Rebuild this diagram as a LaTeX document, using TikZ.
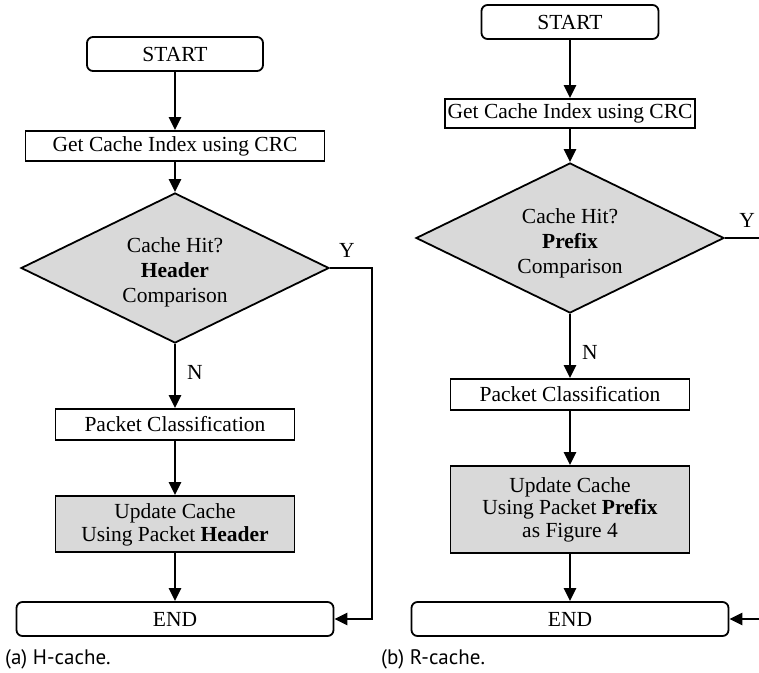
\documentclass[tikz,border=0pt]{standalone}
\usepackage{fontspec}
\setmainfont{Liberation Serif}
\newfontfamily\capfont{PT Sans}
\usetikzlibrary{shapes.geometric,arrows.meta}

\tikzset{
  every node/.style={font=\fontsize{21.5}{22.5}\selectfont},
  procbox/.style={draw, line width=1.8pt, fill=white, inner sep=0pt, align=center},
  termbox/.style={procbox, rounded corners=6pt},
  shadebox/.style={procbox, fill=gray!30},
  decision/.style={diamond, draw, line width=1.8pt, fill=gray!30, inner sep=0pt, aspect=2},
  dectext/.style={inner sep=0pt, align=center, font=\fontsize{21.5}{25}\selectfont},
  flow/.style={line width=2.4pt, -{Triangle[length=13pt,width=12pt]}},
  lbl/.style={inner sep=0pt},
  caption/.style={inner sep=0pt, anchor=west, font=\capfont\fontsize{21}{23}\selectfont}
}

\begin{document}
\begin{tikzpicture}[x=1pt, y=-1pt]
  \useasboundingbox (0,0) rectangle (759,672);
  \clip (0,0) rectangle (759,672);

  % ---------- (a) H-cache ----------
  \node[termbox, minimum width=176pt, minimum height=34pt] (startA) at (175,54) {START};
  \node[procbox, minimum width=299pt, minimum height=30pt] (getA) at (175,146) {Get Cache Index using CRC};
  \node[decision, minimum width=308pt, minimum height=150pt] (decA) at (175,268) {};
  \node[dectext] (decAtxt) at (175,272) {Cache Hit?\\\textbf{Header}\\Comparison};
  \node[procbox, minimum width=239pt, minimum height=31pt] (packA) at (175,424.5) {Packet Classification};
  \node[shadebox, minimum width=239pt, minimum height=56pt] (updA) at (175,524)
       {\rule{0pt}{17pt}Update Cache\\Using Packet \textbf{Header}};
  \node[termbox, minimum width=317pt, minimum height=34pt] (endA) at (175,619) {END};

  \node[lbl] (yA) at (347,250) {Y};
  \node[lbl] (nA) at (195,372) {N};
  \coordinate (turnA) at (372,268);

  \draw[flow] (startA) -- (getA);
  \draw[flow] (getA) -- (decA);
  \draw[flow] (decA) -- (packA);
  \draw[flow] (packA) -- (updA);
  \draw[flow] (updA) -- (endA);
  \draw[flow] (decA.east) -- (turnA) |- (endA.east);

  \node[caption] (capA) at (5,659) {(a) H-cache.};

  % ---------- (b) R-cache ----------
  \node[termbox, minimum width=177pt, minimum height=34pt] (startB) at (570,22) {START};
  \node[procbox, minimum width=250pt, minimum height=29pt] (getB) at (570,113.5) {Get Cache Index using CRC};
  \node[decision, minimum width=308pt, minimum height=150pt] (decB) at (570,238) {};
  \node[dectext] (decBtxt) at (570,243) {Cache Hit?\\\textbf{Prefix}\\Comparison};
  \node[procbox, minimum width=239pt, minimum height=31pt] (packB) at (570,394.5) {Packet Classification};
  \node[shadebox, minimum width=239pt, minimum height=87pt] (updB) at (570,509.5)
       {Update Cache\\Using Packet \textbf{Prefix}\\as Figure 4};
  \node[termbox, minimum width=317pt, minimum height=34pt] (endB) at (570,619) {END};

  \node[lbl] (yB) at (747,220) {Y};
  \node[lbl] (nB) at (590,352) {N};
  \coordinate (turnB) at (766,238);

  \draw[flow] (startB) -- (getB);
  \draw[flow] (getB) -- (decB);
  \draw[flow] (decB) -- (packB);
  \draw[flow] (packB) -- (updB);
  \draw[flow] (updB) -- (endB);
  \draw[flow] (decB.east) -- (turnB) |- (endB.east);

  \node[caption] (capB) at (381,659) {(b) R-cache.};
\end{tikzpicture}
\end{document}
